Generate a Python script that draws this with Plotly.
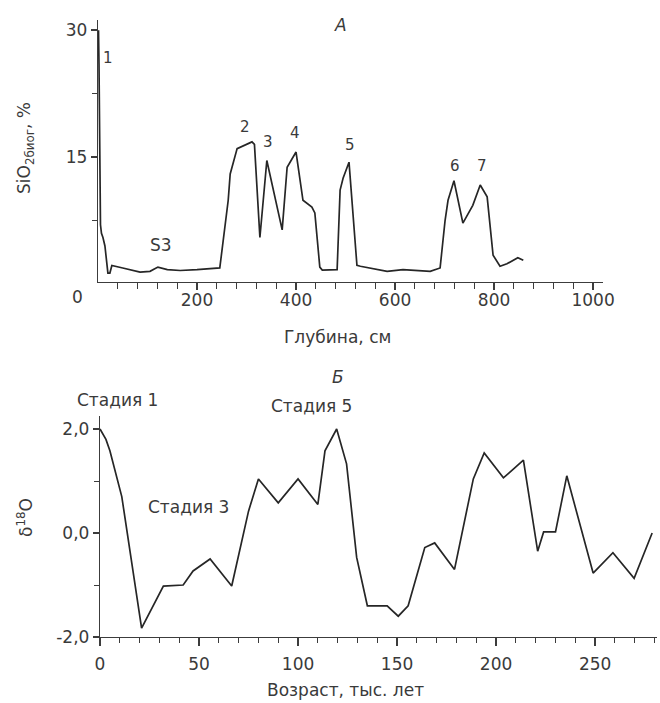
import plotly.graph_objects as go

# Panel A: biogenic silica vs depth
depth_cm = [0, 1, 2, 3, 4, 5, 7, 10, 14, 20, 24, 28, 50, 85, 105, 121, 140, 166, 200, 230, 246,
            263, 267, 281, 300, 311, 316, 323, 327, 341, 357, 372, 382, 400, 414, 432, 438, 448, 453,
            469, 483, 489, 495, 507, 515, 523, 530, 584, 616, 671, 691, 701, 707, 719, 737, 757,
            772, 786, 798, 812, 826, 848, 859]
sio2_pct = [28, 30, 26, 16, 15, 7, 6, 5.5, 4.5, 1.3, 1.3, 2.2, 1.9, 1.4, 1.5, 2.0, 1.7, 1.6, 1.7, 1.8, 1.9,
            9.9, 13, 16, 16.5, 16.8, 16.5, 9.9, 5.5, 14.6, 10.5, 6.4, 13.8, 15.6, 9.9, 9.1, 8.4, 2.0, 1.65,
            1.7, 1.7, 11.1, 12.5, 14.4, 8.7, 2.2, 2.1, 1.5, 1.7, 1.5, 1.9, 7.5, 9.9, 12.2, 7.2, 9.3,
            11.7, 10.3, 3.4, 2.1, 2.4, 3.1, 2.8]
depth_major = [200, 400, 600, 800, 1000]
depth_minor = [v for v in range(40, 1001, 40) if v not in depth_major]
sio2_major = [15, 30]
sio2_minor = [7.5, 22.5]
peak_labels = ["1", "2", "3", "4", "5", "6", "7"]
peak_depth = [20, 297, 343, 398, 509, 721, 776]
peak_value = [26.7, 18.5, 16.8, 17.8, 16.4, 14.0, 14.0]

# Panel B: oxygen isotope curve vs age
age_ka = [0, 3, 5, 8, 11, 21, 32, 42, 47, 55.6, 66.5, 75, 80, 90, 100, 110, 113.6, 119.5, 124.5,
          129.6, 135, 145, 150.6, 155.6, 164, 169, 179, 188.5, 194, 203.7, 213.8, 221, 224, 230,
          235.7, 249, 259, 269.7, 278.8]
d18o = [2.0, 1.8, 1.58, 1.13, 0.7, -1.83, -1.02, -1.0, -0.73, -0.5, -1.02, 0.42, 1.04, 0.58, 1.04,
        0.55, 1.58, 2.0, 1.33, -0.47, -1.4, -1.4, -1.6, -1.4, -0.28, -0.19, -0.7, 1.04, 1.54, 1.06,
        1.4, -0.35, 0.02, 0.02, 1.1, -0.77, -0.38, -0.87, 0.0]
age_major = [0, 50, 100, 150, 200, 250]
age_minor = [v for v in range(10, 281, 10) if v not in age_major]
d18o_major = [-2.0, 0.0, 2.0]
d18o_labels = ["-2,0", "0,0", "2,0"]
d18o_minor = [-1.0, 1.0]

FONT = "DejaVu Sans"
INK = "#262626"
TXT = "#3a3a3a"
AX = "#3c3c3c"
W, H = 660, 703


def px_x(p):
    return p / W


def px_y(p):
    return 1 - p / H


fig = go.Figure()
fig.add_trace(go.Scatter(x=depth_cm, y=sio2_pct, mode="lines",
                         line=dict(color=INK, width=1.7), xaxis="x", yaxis="y",
                         showlegend=False))
fig.add_trace(go.Scatter(x=age_ka, y=d18o, mode="lines",
                         line=dict(color=INK, width=1.7), xaxis="x2", yaxis="y2",
                         showlegend=False))

axis_common = dict(showline=True, linecolor=AX, linewidth=1.4, showgrid=False,
                   zeroline=False, ticks="outside", tickcolor=AX, ticklen=8, tickwidth=1.6,
                   automargin=False, tickmode="array",
                   tickfont=dict(family=FONT, size=17, color=TXT))


def minor(vals, length=5):
    return dict(tickmode="array", tickvals=vals, ticks="outside", ticklen=length,
                tickwidth=1.4, tickcolor=AX, showgrid=False)


fig.update_layout(
    width=W, height=H, margin=dict(l=0, r=0, t=0, b=0),
    paper_bgcolor="white", plot_bgcolor="white", showlegend=False,
    xaxis=dict(axis_common, domain=[px_x(98), px_x(603)], range=[0, 1020], anchor="y",
               tickvals=depth_major, ticklen=7, ticklabelstandoff=-4,
               minor=minor(depth_minor, 6)),
    yaxis=dict(axis_common, domain=[px_y(281.5), px_y(20)], range=[0.3, 31.2], anchor="x",
               tickvals=sio2_major, ticklen=6, minor=minor(sio2_minor, 5)),
    xaxis2=dict(axis_common, domain=[px_x(100), px_x(656.5)], range=[0, 281], anchor="y2",
                tickvals=age_major, ticklabelstandoff=3, minor=minor(age_minor, 5)),
    yaxis2=dict(axis_common, domain=[px_y(637), px_y(416)], range=[-2.0, 2.25], anchor="x2",
                tickvals=d18o_major, ticktext=d18o_labels, ticklen=6, minor=minor(d18o_minor, 5)),
)


def label(text, x, y, size=17, angle=0, **kw):
    fig.add_annotation(x=x, y=y, text=text, showarrow=False, textangle=angle,
                       xanchor="center", yanchor="middle",
                       font=dict(family=FONT, size=size, color=TXT), **kw)


# origin label of the depth axis, set left of the axis corner
label("0", px_x(77), px_y(297), xref="paper", yref="paper")

for lab, xd, yv in zip(peak_labels, peak_depth, peak_value):
    label(lab, xd, yv, size=15, xref="x", yref="y")
label("S3", 128, 4.6, xref="x", yref="y")

# axis captions
label("SiO<sub>2биог</sub>, %", px_x(25), px_y(148), angle=-90, xref="paper", yref="paper")
label("δ<sup>18</sup>O", px_x(25), px_y(518), angle=-90, xref="paper", yref="paper")
label("Глубина, см", px_x(337), px_y(337), xref="paper", yref="paper")
label("Возраст, тыс. лет", px_x(345), px_y(690), xref="paper", yref="paper")

# panel letters
label("<i>А</i>", px_x(340), px_y(25), xref="paper", yref="paper")
label("<i>Б</i>", px_x(338), px_y(377), xref="paper", yref="paper")

# isotope stage labels
for txt, xa, ya in [("Стадия 1", 117, 400), ("Стадия 3", 188, 507), ("Стадия 5", 311, 406)]:
    label(txt, px_x(xa), px_y(ya), xref="paper", yref="paper")

fig.write_html("out.html")
